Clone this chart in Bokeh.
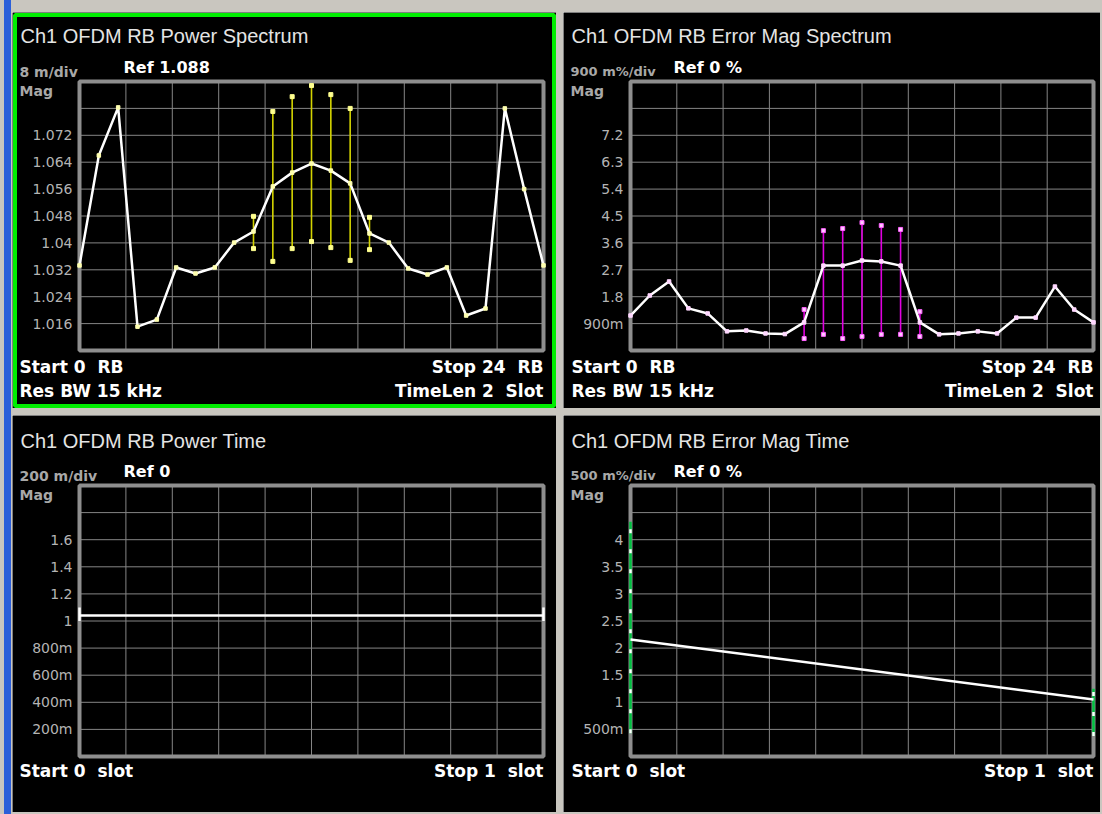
from bokeh.plotting import figure
from bokeh.models import Range1d, Label, BoxAnnotation, Spacer
from bokeh.layouts import row, column
from bokeh.embed import file_html
from bokeh.resources import INLINE

# ---------------- data ----------------
rb = list(range(25))
pwr_spec = [1.0333, 1.0660, 1.0803, 1.0151, 1.0172, 1.0327, 1.0309, 1.0327, 1.0401,
            1.0434, 1.0568, 1.0609, 1.0636, 1.0615, 1.0577, 1.0428, 1.0401, 1.0324,
            1.0306, 1.0327, 1.0184, 1.0205, 1.0800, 1.0560, 1.0333]
pwr_bar_rb = [9, 10, 11, 12, 13, 14, 15]
pwr_bar_hi = [1.0479, 1.0791, 1.0835, 1.0868, 1.0841, 1.0800, 1.0476]
pwr_bar_lo = [1.0383, 1.0345, 1.0383, 1.0404, 1.0386, 1.0348, 1.0380]

evm_spec = [1.17, 1.84, 2.31, 1.41, 1.24, 0.64, 0.67, 0.57, 0.55, 0.94, 2.84, 2.84,
            3.01, 2.98, 2.84, 0.94, 0.54, 0.57, 0.64, 0.57, 1.10, 1.10, 2.14, 1.37, 0.94]
evm_bar_rb = [9, 10, 11, 12, 13, 14, 15]
evm_bar_hi = [1.37, 4.01, 4.08, 4.28, 4.18, 4.05, 1.30]
evm_bar_lo = [0.40, 0.54, 0.40, 0.47, 0.54, 0.54, 0.47]

slot = [0, 1]
pwr_time = [1.04, 1.04]
pwr_time_lo = [1.0, 1.0]
pwr_time_hi = [1.1, 1.1]
evm_time = [2.16, 1.05]
evm_time_lo = [0.43, 0.38]
evm_time_hi = [4.33, 1.25]

# axis divisions / tick labels
rb_grid = [0, 2.4, 4.8, 7.2, 9.6, 12, 14.4, 16.8, 19.2, 21.6, 24]
slot_grid = [0, 0.1, 0.2, 0.3, 0.4, 0.5, 0.6, 0.7, 0.8, 0.9, 1.0]
pwr_ticks = [1.008, 1.016, 1.024, 1.032, 1.04, 1.048, 1.056, 1.064, 1.072, 1.08, 1.088]
pwr_labels = ["", "1.016", "1.024", "1.032", "1.04", "1.048", "1.056", "1.064", "1.072", "", ""]
evm_ticks = [0.0, 0.9, 1.8, 2.7, 3.6, 4.5, 5.4, 6.3, 7.2, 8.1, 9.0]
evm_labels = ["", "900m", "1.8", "2.7", "3.6", "4.5", "5.4", "6.3", "7.2", "", ""]
pt_ticks = [0.0, 0.2, 0.4, 0.6, 0.8, 1.0, 1.2, 1.4, 1.6, 1.8, 2.0]
pt_labels = ["", "200m", "400m", "600m", "800m", "1", "1.2", "1.4", "1.6", "", ""]
et_ticks = [0.0, 0.5, 1.0, 1.5, 2.0, 2.5, 3.0, 3.5, 4.0, 4.5, 5.0]
et_labels = ["", "500m", "1", "1.5", "2", "2.5", "3", "3.5", "4", "", ""]

NB = "\u00a0"  # keeps the instrument's double spacing in SVG text

# ---------------- styling ----------------
GRID = "#858585"
FRAME = "#8e8e8e"
TICKC = "#b4b4b4"
GREYT = "#a8a8a8"
TITLEC = "#e4e4e4"
BG = "#c9c6bf"


class Panel:
    def __init__(self, ox, oy, w, h, l, r, t, b, xr, yr, xg, yt, yl):
        self.ox, self.oy, self.h = ox, oy, h
        x0, x1 = xr
        y0, y1 = yr
        sx = (x1 - x0) / (r - l)
        sy = (y1 - y0) / (b - t)
        p = figure(width=w, height=h, title=None, output_backend="svg", toolbar_location=None,
                   x_axis_location=None, y_axis_location=None,
                   x_range=Range1d(x0 - l * sx, x1 + (w - r) * sx),
                   y_range=Range1d(y0 - (h - b) * sy, y1 + t * sy),
                   min_border=0, background_fill_color="black", border_fill_color="black",
                   outline_line_color=None)
        p.grid.visible = False
        # grid divisions
        p.segment(x0=xg, y0=[y0] * len(xg), x1=xg, y1=[y1] * len(xg), line_color=GRID, line_width=1)
        p.segment(x0=[x0] * len(yt), y0=yt, x1=[x1] * len(yt), y1=yt, line_color=GRID, line_width=1)
        p.quad(left=[x0], right=[x1], bottom=[y0], top=[y1], fill_alpha=0,
               line_color=FRAME, line_width=4)
        # tick labels
        for tv, tl in zip(yt, yl):
            if tl:
                p.add_layout(Label(x=l - 7, y=tv, x_units="screen", y_units="data", text=tl,
                                   text_font="DejaVu Sans", text_font_size="14px",
                                   text_color=TICKC, text_align="right", text_baseline="middle"))
        self.p = p

    def txt(self, X, Y, text, size, color, bold=True, font="DejaVu Sans", align="left"):
        self.p.add_layout(Label(x=X - self.ox, y=self.h - (Y - self.oy),
                                x_units="screen", y_units="screen",
                                text=text, text_font=font, text_font_size=size,
                                text_font_style="bold" if bold else "normal",
                                text_color=color, text_align=align, text_baseline="middle"))


# ---- top-left: power spectrum ----
A = Panel(12, 12, 544, 396, 67, 531, 69, 338, (0, 24), (1.008, 1.088), rb_grid, pwr_ticks, pwr_labels)
p1 = A.p
p1.segment(x0=pwr_bar_rb, y0=pwr_bar_lo, x1=pwr_bar_rb, y1=pwr_bar_hi, line_color="#d4d400", line_width=1.6)
p1.scatter(pwr_bar_rb, pwr_bar_hi, marker="square", size=4, fill_color="#ffff90", line_color="#ffff90")
p1.scatter(pwr_bar_rb, pwr_bar_lo, marker="square", size=4, fill_color="#ffff90", line_color="#ffff90")
p1.line(rb, pwr_spec, line_color="white", line_width=2.5)
p1.scatter(rb, pwr_spec, marker="square", size=3.5, fill_color="#ffffb0", line_color="#ffffb0")
A.txt(20, 35, "Ch1 OFDM RB Power Spectrum", "20px", TITLEC, bold=False, font="Liberation Sans")
A.txt(19, 71, "8 m/div", "14px", GREYT)
A.txt(123, 67, "Ref 1.088", "16px", "white")
A.txt(19, 90, "Mag", "14px", GREYT)
A.txt(19, 366, "Start 0 " + NB + "RB", "17px", "white")
A.txt(19, 390, "Res BW 15 kHz", "17px", "white")
A.txt(543, 366, "Stop 24 " + NB + "RB", "17px", "white", align="right")
A.txt(543, 390, "TimeLen 2 " + NB + "Slot", "17px", "white", align="right")
p1.add_layout(BoxAnnotation(left=2.5, right=541.5, bottom=2.5, top=393.5,
                            left_units="screen", right_units="screen",
                            bottom_units="screen", top_units="screen",
                            fill_alpha=0, line_color="#00ee00", line_alpha=1.0, line_width=4))

# ---- top-right: error mag spectrum ----
B = Panel(563, 12, 537, 396, 67, 530, 69, 338, (0, 24), (0, 9), rb_grid, evm_ticks, evm_labels)
p2 = B.p
p2.segment(x0=evm_bar_rb, y0=evm_bar_lo, x1=evm_bar_rb, y1=evm_bar_hi, line_color="#e000e0", line_width=1.6)
p2.scatter(evm_bar_rb, evm_bar_hi, marker="square", size=4, fill_color="#ffc8ff", line_color="#ff60ff")
p2.scatter(evm_bar_rb, evm_bar_lo, marker="square", size=4, fill_color="#ffc8ff", line_color="#ff60ff")
p2.line(rb, evm_spec, line_color="white", line_width=2.5)
p2.scatter(rb, evm_spec, marker="square", size=3.5, fill_color="#ffd8ff", line_color="#ffd8ff")
B.txt(571, 35, "Ch1 OFDM RB Error Mag Spectrum", "20px", TITLEC, bold=False, font="Liberation Sans")
B.txt(570, 71, "900 m%/div", "13px", GREYT)
B.txt(673, 67, "Ref 0 %", "16px", "white")
B.txt(570, 90, "Mag", "14px", GREYT)
B.txt(571, 366, "Start 0 " + NB + "RB", "17px", "white")
B.txt(571, 390, "Res BW 15 kHz", "17px", "white")
B.txt(1093, 366, "Stop 24 " + NB + "RB", "17px", "white", align="right")
B.txt(1093, 390, "TimeLen 2 " + NB + "Slot", "17px", "white", align="right")

# ---- bottom-left: power time ----
C = Panel(12, 415, 544, 397, 67, 531, 70, 341, (0, 1), (0, 2.0), slot_grid, pt_ticks, pt_labels)
p3 = C.p
p3.line(slot, pwr_time, line_color="white", line_width=2.5)
p3.segment(x0=slot, y0=pwr_time_lo, x1=slot, y1=pwr_time_hi, line_color="white", line_width=2.5)
C.txt(20, 440, "Ch1 OFDM RB Power Time", "20px", TITLEC, bold=False, font="Liberation Sans")
C.txt(19, 475, "200 m/div", "14px", GREYT)
C.txt(123, 471, "Ref 0", "16px", "white")
C.txt(19, 494, "Mag", "14px", GREYT)
C.txt(19, 770, "Start 0 " + NB + "slot", "17px", "white")
C.txt(543, 770, "Stop 1 " + NB + "slot", "17px", "white", align="right")

# ---- bottom-right: error mag time ----
D = Panel(563, 415, 537, 397, 67, 530, 70, 341, (0, 1), (0, 5.0), slot_grid, et_ticks, et_labels)
p4 = D.p
p4.segment(x0=slot, y0=evm_time_lo, x1=slot, y1=evm_time_hi, line_color="#00c040", line_width=2.5)
p4.segment(x0=slot, y0=evm_time_lo, x1=slot, y1=evm_time_hi, line_color="white", line_width=2.5, line_dash="4 16")
p4.line(slot, evm_time, line_color="white", line_width=2.5)
D.txt(571, 440, "Ch1 OFDM RB Error Mag Time", "20px", TITLEC, bold=False, font="Liberation Sans")
D.txt(570, 475, "500 m%/div", "13px", GREYT)
D.txt(673, 471, "Ref 0 %", "16px", "white")
D.txt(570, 494, "Mag", "14px", GREYT)
D.txt(571, 770, "Start 0 " + NB + "slot", "17px", "white")
D.txt(1093, 770, "Stop 1 " + NB + "slot", "17px", "white", align="right")


def sp(w, h, c):
    return Spacer(width=w, height=h, styles={"background-color": c})


main = column(
    sp(1090, 12, BG),
    row(p1, sp(7, 396, BG), p2, sp(2, 396, BG)),
    sp(1090, 7, BG),
    row(p3, sp(7, 397, BG), p4, sp(2, 397, BG)),
    sp(1090, 2, BG),
)
root = row(sp(4, 814, BG), sp(7, 814, "#2b5fd9"), sp(1, 814, BG), main)

open("out.html", "w").write(file_html(root, INLINE))
